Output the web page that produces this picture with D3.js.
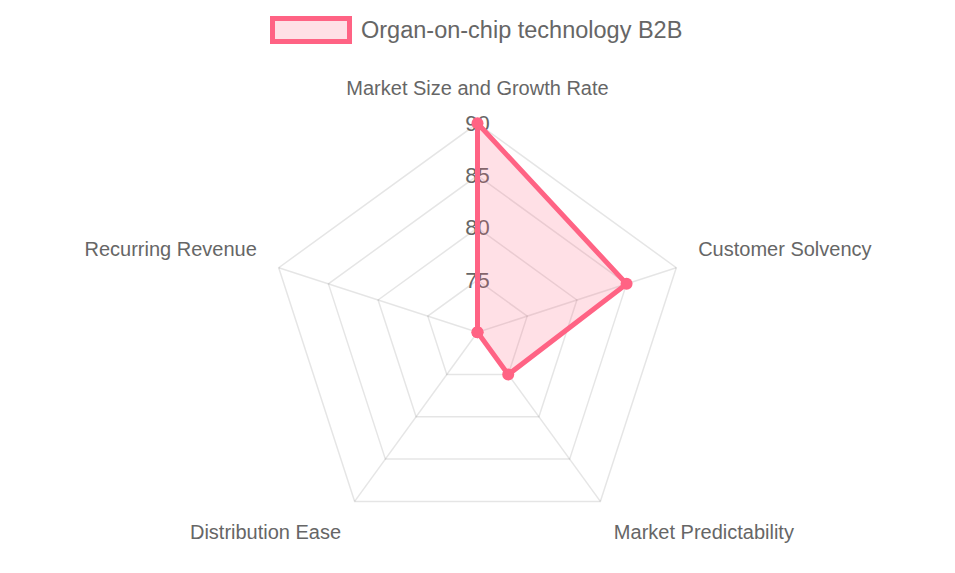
<!DOCTYPE html>
<html><head><meta charset="utf-8">
<script src="https://cdn.jsdelivr.net/npm/d3@7"></script>
<style>html,body{margin:0;padding:0;background:#fff;} svg{display:block;}</style>
</head><body>
<svg id="chart" width="955" height="573"></svg>
<script>
const categories = ["Market Size and Growth Rate","Customer Solvency","Market Predictability","Distribution Ease","Recurring Revenue"];
const seriesName = "Organ-on-chip technology B2B";
const seriesValues = [90, 85, 75, 70, 70];
const tickValues = [75, 80, 85, 90];
const scaleMin = 70, scaleMax = 90;

const W = 955, H = 573;
const cx = 477.5, cy = 332.3, R = 209;
const lineColor = "rgb(255,99,132)";
const fillColor = "rgba(255,99,132,0.2)";
const gridColor = "rgba(0,0,0,0.1)";
const textColor = "#666";
const font = "'Liberation Sans', Arial, Helvetica, sans-serif";

const svg = d3.select("#chart");
const r = d3.scaleLinear().domain([scaleMin, scaleMax]).range([0, R]);
const n = categories.length;
const ang = d3.scaleLinear().domain([0, n]).range([0, 2*Math.PI]);
const pt = (i, rad) => [cx + rad*Math.sin(ang(i)), cy - rad*Math.cos(ang(i))];

// grid rings
const g = svg.append("g");
tickValues.forEach(t => {
  const pts = d3.range(n).map(i => pt(i, r(t)));
  g.append("polygon").attr("points", pts.map(p=>p.join(",")).join(" "))
    .attr("fill","none").attr("stroke",gridColor).attr("stroke-width",1.5);
});
// angle lines
d3.range(n).forEach(i => {
  const p = pt(i, r(scaleMax));
  g.append("line").attr("x1",cx).attr("y1",cy).attr("x2",p[0]).attr("y2",p[1])
    .attr("stroke",gridColor).attr("stroke-width",1.5);
});
// tick labels
tickValues.forEach(t => {
  g.append("text").attr("x",cx).attr("y",cy - r(t)).attr("text-anchor","middle")
    .attr("dominant-baseline","central").attr("font-family",font).attr("font-size",22)
    .attr("fill",textColor).text(t);
});
// point labels
const fs = 20;
categories.forEach((c,i) => {
  const a = ang(i);
  const p = pt(i, R + 23);
  const s = Math.sin(a), co = Math.cos(a);
  let anchor = Math.abs(s) < 0.01 ? "middle" : (s > 0 ? "start" : "end");
  let y;
  if (co > 0.01) y = p[1] - fs*0.25; else if (co < -0.01) y = p[1] + fs*0.95; else y = p[1] + fs*0.35;
  g.append("text").attr("x",p[0]).attr("y",y).attr("font-family",font).attr("font-size",fs)
    .attr("fill",textColor).attr("text-anchor",anchor).text(c);
});
// data polygon
const dpts = seriesValues.map((v,i) => pt(i, r(v)));
svg.append("polygon").attr("points", dpts.map(p=>p.join(",")).join(" "))
  .attr("fill",fillColor).attr("stroke",lineColor).attr("stroke-width",5).attr("stroke-linejoin","miter");
svg.selectAll("circle.pt").data(dpts).enter().append("circle")
  .attr("cx",d=>d[0]).attr("cy",d=>d[1]).attr("r",6).attr("fill",lineColor);

// legend
const lg = svg.append("g");
lg.append("rect").attr("x",272.5).attr("y",18.5).attr("width",77).attr("height",23)
  .attr("fill",fillColor).attr("stroke",lineColor).attr("stroke-width",5);
lg.append("text").attr("x",361).attr("y",30).attr("dominant-baseline","central")
  .attr("font-family",font).attr("font-size",23.5).attr("fill",textColor).text(seriesName);
</script>
</body></html>
